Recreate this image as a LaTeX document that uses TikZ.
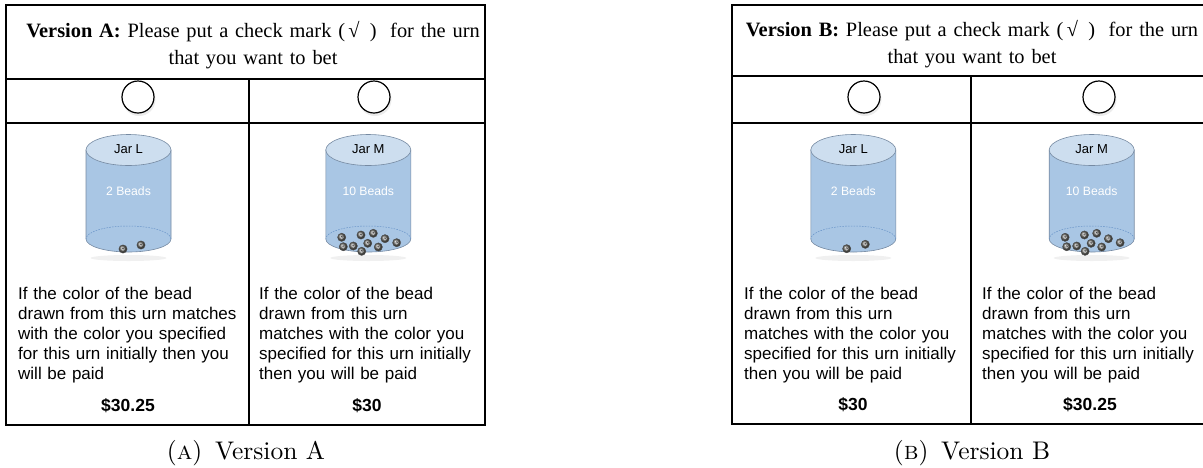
\documentclass[tikz,border=0pt]{standalone}
\usepackage{fontspec}
\newfontfamily\serifT{Liberation Serif}
\newfontfamily\sansA{Liberation Sans}
\newfontfamily\capfont[SmallCapsFont=lmromancaps10-regular.otf]{lmroman10-regular.otf}
\definecolor{jarbody}{RGB}{169,198,228}
\definecolor{jartop}{RGB}{205,222,239}
\definecolor{jarline}{RGB}{118,138,162}
\definecolor{jardash}{RGB}{105,148,200}
\definecolor{beadgray}{RGB}{105,105,100}

\tikzset{
  tbl/.style={line width=2pt, black},
  head/.style={font=\serifT\fontsize{20.4}{27}\selectfont, text width=476pt, align=center, inner sep=0pt, anchor=base},
  body/.style={font=\sansA\fontsize{17}{20}\selectfont, text width=235pt, align=left, inner sep=0pt, anchor=base west},
  price/.style={font=\sansA\bfseries\fontsize{17.5}{20}\selectfont, inner sep=0pt, anchor=base},
  subcap/.style={font=\capfont\fontsize{25.5}{30}\selectfont, inner sep=0pt, anchor=base},
  pick/.style={circle, draw, line width=1.2pt, fill=white, minimum size=32pt, inner sep=0pt},
  jarlbl/.style={font=\sansA\fontsize{13}{16}\selectfont, inner sep=0pt},
  jarcnt/.style={font=\sansA\fontsize{12.2}{16}\selectfont, text=white, inner sep=0pt},
}

% one bead: a dark grey ball with a paler centre and a small curl
\newcommand\bead[2]{%
  \shade[ball color=beadgray] (#1,-#2) circle (4.1pt);
  \draw[black!70, line width=.45pt] (#1,-#2) circle (4.1pt);
  \fill[gray!50] (#1,-#2) circle (1.9pt);
  \draw[black!75, line width=.4pt] (#1-0.7,-#2+0.3) arc[start angle=180, end angle=-60, radius=0.75pt];
}

% a jar: #1 centre x, #2 name prefix, #3 label, #4 bead count text, #5 bead offsets
\newcommand\drawjar[5]{%
  \begin{scope}[shift={(#1,0)}]
    \fill[gray!12] (0,-258) ellipse [x radius=38pt, y radius=3pt];
    \filldraw[fill=jarbody, draw=jarline, line width=.6pt]
      (-42.5,-150) -- (-42.5,-239)
      arc[start angle=180, end angle=360, x radius=42.5pt, y radius=13pt]
      -- (42.5,-150) -- cycle;
    \draw[jardash, line width=.5pt, dash pattern=on 1.6pt off 1.2pt]
      (42.5,-239) arc[start angle=0, end angle=180, x radius=42.5pt, y radius=13pt];
    \filldraw[fill=jartop, draw=jarline, line width=.6pt]
      (0,-150) ellipse [x radius=42.5pt, y radius=15.5pt];
    \node[jarlbl] (#2lbl) at (0,-149.5) {#3};
    \node[jarcnt] (#2cnt) at (0,-191.5) {#4};
    \foreach \bx/\by in {#5} {\bead{\bx}{\by}}
  \end{scope}}

\begin{document}
\begin{tikzpicture}[x=1pt, y=1pt]
\useasboundingbox (0,0) rectangle (1203,-467);

% ---------- Version A ----------
\draw[tbl] (6,-5) rectangle (485,-425);
\draw[tbl] (6,-79) -- (485,-79);
\draw[tbl] (6,-123) -- (485,-123);
\draw[tbl] (249,-79) -- (249,-425);

\node[head] (headA) at (253,-37)
  {\textbf{Version A:} Please put a check mark (\,√\ \,)\ \ for the urn\\that you want to bet};

\fill[gray!25, opacity=.6] (139,-99.5) circle (16.5pt);
\node[pick] (pickAL) at (138,-97) {};
\fill[gray!25, opacity=.6] (375,-99.5) circle (16.5pt);
\node[pick] (pickAR) at (374,-97) {};

\drawjar{128.5}{AL}{Jar L}{2 Beads}{-5.5/249, 12.5/245}
\drawjar{368.3}{AM}{Jar M}{10 Beads}{-26.6/237.3, -25/246.7, -7.3/235, -15/246, 5/233.3, -0.6/243.3, 16.7/238.7, 10/247, 28.4/242.7, -6.6/251.3}

\node[body] (textAL) at (18,-299)
  {If the color of the bead\\drawn from this urn matches\\with the color you specified\\for this urn initially then you\\will be paid};
\node[body] (textAR) at (259,-299)
  {If the color of the bead\\drawn from this urn\\matches with the color you\\specified for this urn initially\\then you will be paid};
\node[price] (priceAL) at (128,-411) {\$30.25};
\node[price] (priceAR) at (367,-411) {\$30};

\node[subcap] (capA) at (246,-459) {(\textsc{a})\hspace{.5em}Version A};

% ---------- Version B ----------
\draw[tbl] (1203,-5) -- (732,-5) -- (732,-424) -- (1203,-424);
\draw[tbl] (732,-76) -- (1203,-76);
\draw[tbl] (732,-123) -- (1203,-123);
\draw[tbl] (971,-76) -- (971,-424);

\node[head] (headB) at (972,-36)
  {\textbf{Version B:} Please put a check mark (\,√\ \,)\ \ for the urn\\that you want to bet};

\fill[gray!25, opacity=.6] (865,-99.5) circle (16.5pt);
\node[pick] (pickBL) at (864,-97) {};
\fill[gray!25, opacity=.6] (1100,-99.5) circle (16.5pt);
\node[pick] (pickBR) at (1099,-97) {};

\drawjar{853.3}{BL}{Jar L}{2 Beads}{-6.6/248.7, 12/244.3}
\drawjar{1091.7}{BM}{Jar M}{10 Beads}{-26.6/237.3, -25/246.7, -7.3/235, -15/246, 5/233.3, -0.6/243.3, 16.7/238.7, 10/247, 28.4/242.7, -6.6/251.3}

\node[body] (textBL) at (744,-299)
  {If the color of the bead\\drawn from this urn\\matches with the color you\\specified for this urn initially\\then you will be paid};
\node[body] (textBR) at (982,-299)
  {If the color of the bead\\drawn from this urn\\matches with the color you\\specified for this urn initially\\then you will be paid};
\node[price] (priceBL) at (853,-410) {\$30};
\node[price] (priceBR) at (1090,-410) {\$30.25};

\node[subcap] (capB) at (972,-459) {(\textsc{b})\hspace{.5em}Version B};
\end{tikzpicture}
\end{document}
